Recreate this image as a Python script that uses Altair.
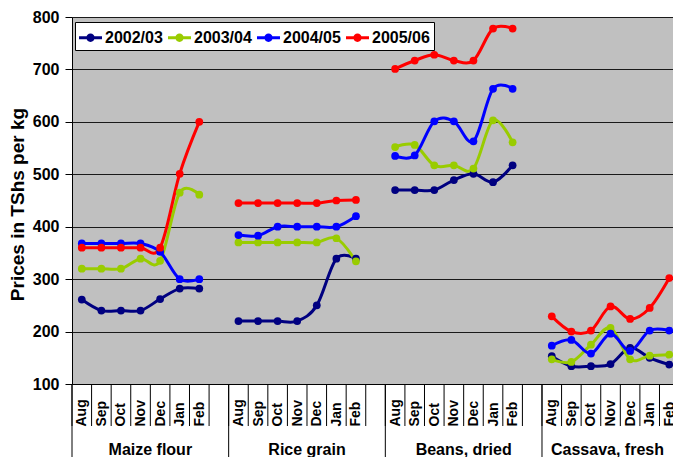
import altair as alt
import pandas as pd

months = ["Aug", "Sep", "Oct", "Nov", "Dec", "Jan", "Feb"]
groups = ["Maize flour", "Rice grain", "Beans, dried", "Cassava, fresh"]
series = ["2002/03", "2003/04", "2004/05", "2005/06"]
colors = ["#000080", "#99CC00", "#0000FF", "#FF0000"]

# prices per series, per group (Aug..Feb)
p_2002 = {
    "Maize flour": [261, 240, 240, 240, 262, 282, 282],
    "Rice grain": [220, 220, 220, 220, 250, 339, 339],
    "Beans, dried": [470, 470, 470, 489, 501, 485, 517],
    "Cassava, fresh": [153, 134, 134, 138, 169, 150, 137],
}
p_2003 = {
    "Maize flour": [320, 320, 320, 339, 335, 465, 461],
    "Rice grain": [370, 370, 370, 370, 370, 378, 334],
    "Beans, dried": [552, 556, 517, 517, 511, 603, 561],
    "Cassava, fresh": [147, 142, 175, 207, 147, 154, 156],
}
p_2004 = {
    "Maize flour": [368, 368, 368, 368, 352, 300, 300],
    "Rice grain": [384, 383, 400, 400, 400, 400, 420],
    "Beans, dried": [535, 536, 601, 601, 563, 663, 663],
    "Cassava, fresh": [173, 184, 158, 196, 163, 202, 202],
}
p_2005 = {
    "Maize flour": [360, 360, 360, 360, 360, 501, 600],
    "Rice grain": [445, 445, 445, 445, 445, 450, 451],
    "Beans, dried": [701, 717, 728, 717, 717, 778, 778],
    "Cassava, fresh": [229, 200, 202, 248, 224, 245, 302],
}
all_series = [p_2002, p_2003, p_2004, p_2005]

slots_per_group = 8
x_min, x_max = -0.5, 30.19

rows = []
for s, data in zip(series, all_series):
    for gi, g in enumerate(groups):
        for mi, m in enumerate(months):
            rows.append({"series": s, "group": g, "month": m,
                         "pos": gi * slots_per_group + mi, "price": data[g][mi]})
df = pd.DataFrame(rows)

tick_vals = [gi * slots_per_group + mi for gi in range(len(groups)) for mi in range(len(months))]
short_bounds = [gi * slots_per_group + mi - 0.5 for gi in range(len(groups)) for mi in range(len(months) + 1)]
group_bounds = [gi * slots_per_group - 0.5 for gi in range(len(groups))]
group_centers = [(gi * slots_per_group - 0.5 + min((gi + 1) * slots_per_group - 0.5, x_max)) / 2
                 for gi in range(len(groups))]

FONT = "Liberation Sans"
W, H = 601, 367

xscale = alt.Scale(domain=[x_min, x_max], nice=False, zero=False)
yscale = alt.Scale(domain=[100, 800], nice=False, zero=False)
cscale = alt.Scale(domain=series, range=colors)

month_expr = "['Aug','Sep','Oct','Nov','Dec','Jan','Feb','']"

x_axis = alt.Axis(values=tick_vals, labelExpr=month_expr + "[datum.value % 8]",
                  title=None, grid=False, ticks=False, labelAngle=270,
                  labelAlign="left", labelBaseline="middle", labelPadding=42,
                  labelFont=FONT, labelFontSize=14, labelFontWeight="bold",
                  labelColor="black", domainColor="black", domainWidth=1,
                  labelOverlap=False, labelFlush=False, labelBound=False)
y_axis = alt.Axis(values=[100, 200, 300, 400, 500, 600, 700, 800],
                  title="Prices in TShs per kg", titleFont=FONT, titleFontSize=19,
                  titleFontWeight="bold", titleColor="black", titleX=-55, titleY=187,
                  titleAngle=270, titleAlign="center", titleBaseline="middle",
                  labelFont=FONT, labelFontSize=16, labelFontWeight="bold",
                  labelColor="black", labelPadding=6, tickSize=7, tickColor="black",
                  domainColor="black", gridColor="#1a1a1a", gridWidth=1, grid=True)

sym = ("M-1,-0.13L1,-0.13L1,0.13L-1,0.13Z "
       "M0.36,0A0.36,0.36 0 1 1 -0.36,0A0.36,0.36 0 1 1 0.36,0Z")
legend = alt.Legend(orient="none", legendX=3, legendY=5,
                    direction="horizontal", title=None,
                    fillColor="white", strokeColor="black",
                    padding=4, symbolType=sym, symbolSize=529,
                    symbolStrokeWidth=0, symbolOpacity=1,
                    labelFont=FONT, labelFontSize=16,
                    labelFontWeight="bold", labelColor="black",
                    labelOffset=3, columnPadding=5, labelLimit=200)

base = alt.Chart(df)
lines = base.mark_line(interpolate="cardinal", strokeWidth=3).encode(
    x=alt.X("pos:Q", scale=xscale, axis=x_axis),
    y=alt.Y("price:Q", scale=yscale, axis=y_axis),
    color=alt.Color("series:N", scale=cscale, legend=legend),
    detail="group:N",
)
points = base.mark_point(filled=True, size=60, opacity=1).encode(
    x=alt.X("pos:Q", scale=xscale, axis=x_axis),
    y=alt.Y("price:Q", scale=yscale, axis=y_axis),
    color=alt.Color("series:N", scale=cscale, legend=legend),
)

short_df = pd.DataFrame({"b": short_bounds})
group_df = pd.DataFrame({"b": group_bounds})
label_df = pd.DataFrame({"c": group_centers, "name": groups})

short_rules = alt.Chart(short_df).mark_rule(color="black", strokeWidth=1).encode(
    x=alt.X("b:Q", scale=xscale, axis=x_axis), y=alt.value(H), y2=alt.value(409))
group_rules = alt.Chart(group_df).mark_rule(color="black", strokeWidth=1).encode(
    x=alt.X("b:Q", scale=xscale, axis=x_axis), y=alt.value(H), y2=alt.value(445))
group_labels = alt.Chart(label_df).mark_text(font=FONT, fontSize=16, fontWeight="bold",
                                             color="black", baseline="middle").encode(
    x=alt.X("c:Q", scale=xscale, axis=x_axis), y=alt.value(433), text="name:N")

chart = alt.layer(lines, points, short_rules, group_rules, group_labels).properties(
    width=W, height=H,
    autosize=alt.AutoSizeParams(type="none"),
    padding={"left": 72, "top": 17, "right": 0, "bottom": 73},
    background="white",
).configure_view(fill="#C0C0C0", stroke=None).configure_axis(labelOverlap=False)

chart.save("out.html", embed_options={"renderer": "svg", "actions": False})
